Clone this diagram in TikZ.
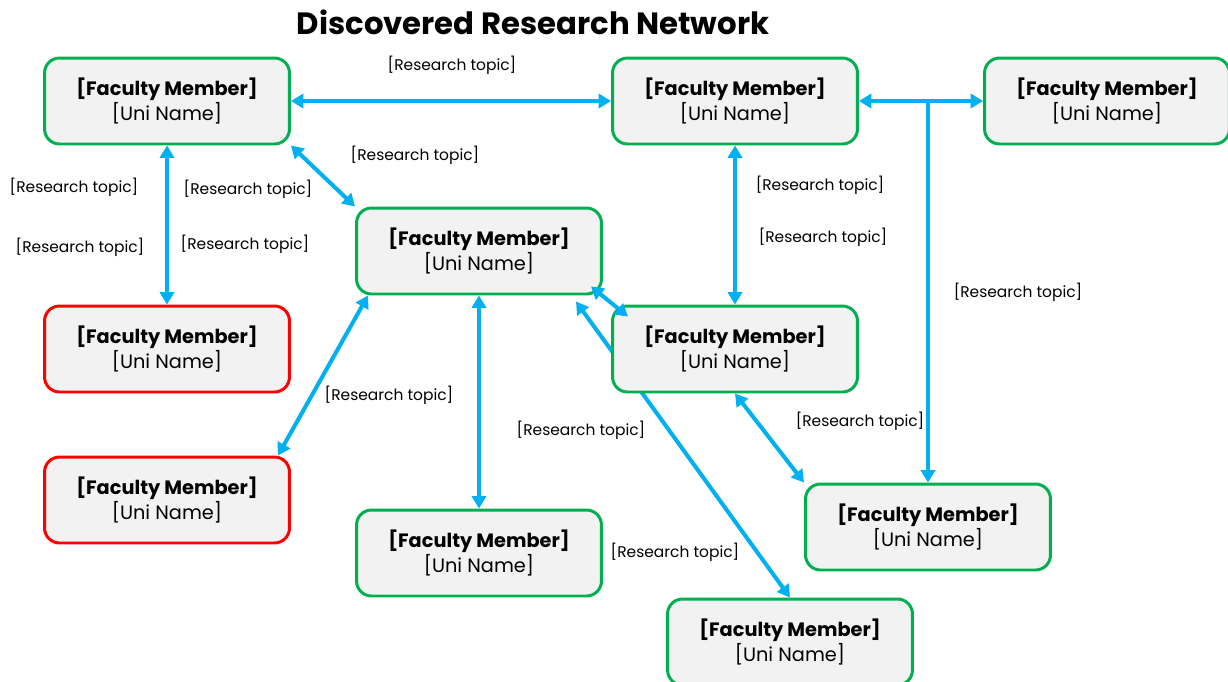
\documentclass[tikz,border=0pt]{standalone}
\usepackage{fontspec}
\setmainfont{Poppins}
\usetikzlibrary{arrows.meta,positioning,backgrounds}
\definecolor{linkblue}{RGB}{0,176,240}
\definecolor{boxgreen}{RGB}{0,176,80}
\definecolor{boxred}{RGB}{255,0,0}
\definecolor{boxfill}{RGB}{242,242,242}
\newcommand{\facultytext}{\textbf{[Faculty Member]}\\{}[Uni Name]}

\begin{document}
\begin{tikzpicture}[x=0.02cm,y=-0.02cm,
    member/.style={draw=boxgreen,fill=boxfill,line width=1.7pt,rounded corners=0.3cm,
        minimum width=4.9cm,minimum height=1.72cm,align=center,inner sep=2pt,
        font=\fontsize{11}{14.5}\selectfont},
    link/.style={linkblue,line width=2.3pt,
        {Triangle[length=7pt,width=8pt]}-{Triangle[length=7pt,width=8pt]}},
    topic/.style={inner sep=1pt,font=\fontsize{8.8}{10}\selectfont}]
    \useasboundingbox (0,0) rectangle (1228,681);

    % Title
    \node[font=\bfseries\fontsize{17.5}{20}\selectfont] (title) at (533,22) {Discovered Research Network};

    % Faculty members
    \foreach \n/\x/\y/\c in {m1/167/101/boxgreen, m2/735/101/boxgreen, m3/1107/101/boxgreen,
                             m4/479/251/boxgreen, m5/167/349/boxred, m6/735/349/boxgreen,
                             m7/167/500/boxred, m8/479/553/boxgreen, m9/928/527/boxgreen,
                             m10/790/642/boxgreen} {
        \node[member,draw=\c] (\n) at (\x,\y) {\facultytext};
    }

    % Research topics
    \foreach \t/\x/\y in {t1/452/65, t2/415/155, t3/74/187, t4/80/247, t5/248/189,
                          t6/245/244, t7/820/185, t8/823/237, t9/1018/292, t10/389/395,
                          t11/581/430, t12/860/421, t13/675/552} {
        \node[topic] (\t) at (\x,\y) {[Research topic]};
    }

    % Links
    \begin{scope}[on background layer]
        \draw[link] (m1.east) -- (m2.west);
        \draw[link] (m2.east) -- (m3.west);
        \coordinate (fork) at (m2.east -| m9.north);
        \draw[link,-{Triangle[length=7pt,width=8pt]}] (fork) -- (m9.north);
        \draw[link] (m1.south) -- (m5.north);
        \draw[link] (m1.south east) -- (m4.north west);
        \draw[link] (m2.south) -- (m6.north);
        \draw[link] ([xshift=0.26cm]m4.south west) -- ([xshift=-0.26cm]m7.north east);
        \draw[link] (m4.south) -- (m8.north);
        \draw[link] ([xshift=-0.54cm,yshift=-0.12cm]m4.south east) -- (m10.north);
        \draw[link] (m6.south) -- (m9.north west);
    \end{scope}
    \draw[link] ([xshift=-0.24cm,yshift=0.18cm]m4.south east) -- ([xshift=0.34cm,yshift=-0.24cm]m6.north west);
\end{tikzpicture}
\end{document}
